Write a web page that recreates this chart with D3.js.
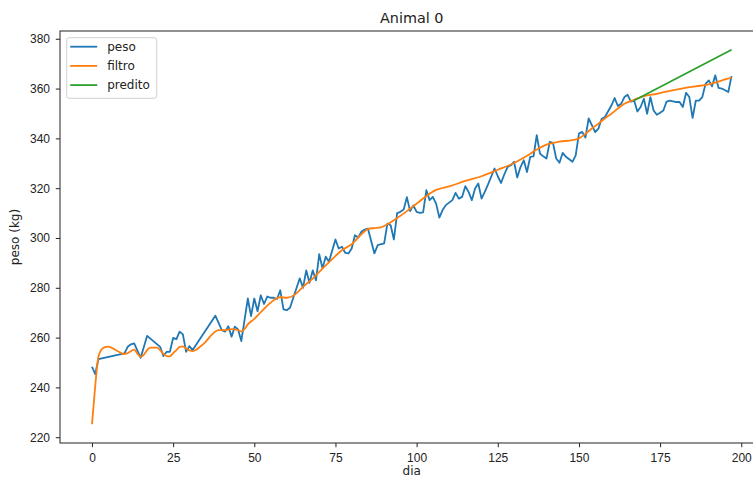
<!DOCTYPE html>
<html lang="pt">
<head>
  <meta charset="UTF-8">
  <title>Animal 0</title>
  <script src="https://d3js.org/d3.v7.min.js"></script>
  <style>
    body { margin: 0; background: #fff; overflow: hidden; }
    svg { display: block; font-family: "DejaVu Sans", sans-serif; }
    .tick text { font-size: 12px; fill: #222; }
    .tick line { stroke: #222; }
    .rotulo { font-size: 12px; fill: #222; }
  </style>
</head>
<body>
  <svg id="chart" width="753" height="478"></svg>

  <script>
    // peso medido (dias com pesagem)
    const pesoDia = [
      0, 1, 2, 10, 11, 12, 13, 15, 17, 19,
      21, 22, 23, 24, 25, 26, 27, 28, 29, 30,
      31, 38, 40, 41, 42, 43, 44, 45, 46, 48,
      49, 50, 51, 52, 53, 54, 55, 56, 57, 58,
      59, 60, 61, 64, 65, 66, 67, 68, 69, 70,
      71, 72, 73, 75, 76, 77, 78, 79, 80, 81,
      82, 83, 84, 85, 87, 88, 90, 91, 92, 93,
      94, 95, 96, 97, 98, 99, 100, 101, 102, 103,
      104, 105, 106, 107, 108, 109, 111, 112, 113, 114,
      115, 116, 117, 118, 119, 120, 121, 122, 124, 125,
      126, 127, 128, 129, 130, 131, 132, 133, 134, 135,
      136, 137, 138, 139, 140, 141, 142, 143, 144, 145,
      146, 148, 149, 150, 151, 152, 153, 155, 156, 157,
      158, 160, 161, 162, 163, 164, 165, 166, 167, 168,
      169, 170, 171, 172, 173, 174, 175, 176, 177, 178,
      180, 181, 182, 183, 184, 185, 186, 187, 188, 189,
      190, 191, 192, 193, 194, 196, 197
    ];
    const pesoKg = [
      248.3, 245.3, 251.4, 253.7, 256.3, 257.3, 257.7, 251.9, 260.7, 258.5,
      256.3, 252.6, 254.3, 254.3, 259.9, 259.4, 262.4, 261.3, 254.3, 256.6,
      255.0, 268.8, 263.0, 262.4, 264.6, 260.4, 264.4, 263.3, 258.6, 275.7,
      268.6, 275.7, 270.6, 277.0, 273.5, 276.5, 276.0, 276.0, 275.5, 279.0,
      271.3, 271.0, 272.0, 283.8, 280.0, 287.0, 282.0, 287.0, 283.0, 293.5,
      287.8, 292.5, 290.5, 299.4, 295.8, 296.5, 294.0, 293.8, 295.8, 301.1,
      300.2, 302.5, 303.4, 303.8, 293.8, 297.1, 297.8, 305.8, 305.1, 299.4,
      310.0, 310.5, 311.4, 316.4, 310.8, 313.1, 310.5, 310.1, 310.3, 319.2,
      315.2, 316.5, 313.8, 308.2, 311.2, 313.2, 315.2, 318.1, 315.8, 316.5,
      320.8, 318.5, 315.2, 319.9, 321.9, 315.8, 318.5, 321.5, 327.9, 324.8,
      322.1, 325.5, 328.5, 329.2, 330.6, 324.3, 328.5, 331.2, 326.5, 332.6,
      332.8, 341.3, 333.9, 332.8, 331.9, 338.6, 338.2, 331.9, 330.2, 334.2,
      332.6, 330.6, 333.2, 341.9, 342.6, 340.3, 348.0, 342.5, 343.9, 347.9,
      348.6, 353.2, 356.2, 353.0, 353.9, 356.6, 357.5, 354.8, 355.2, 350.8,
      352.6, 355.9, 349.9, 356.6, 351.2, 349.5, 350.3, 351.2, 354.8, 355.2,
      354.6, 354.6, 352.6, 358.3, 356.6, 348.2, 355.2, 355.2, 356.6, 361.9,
      363.3, 360.9, 365.3, 360.3, 360.0, 358.6, 365.0
    ];

    // saída do filtro
    const filtroDia = [
      0, 1, 2, 3, 4, 5, 6, 8, 10, 11,
      13, 14, 15, 16, 17, 18, 20, 21, 22, 23,
      24, 25, 26, 27, 28, 29, 30, 31, 32, 33,
      35, 37, 39, 41, 43, 45, 46, 47, 48, 50,
      52, 55, 58, 60, 62, 65, 68, 71, 74, 77,
      80, 83, 85, 87, 89, 91, 94, 97, 100, 103,
      106, 110, 115, 120, 125, 130, 134, 137, 140, 142,
      144, 148, 150, 152, 154, 156, 158, 160, 162, 164,
      167, 170, 174, 178, 182, 186, 190, 193, 195, 197
    ];
    const filtroKg = [
      225.2, 240.5, 252.5, 255.3, 256.2, 256.4, 256.0, 254.5, 253.4, 253.8,
      255.2, 253.5, 252.3, 253.2, 255.0, 256.0, 256.0, 255.0, 253.5, 252.6,
      252.5, 253.8, 255.0, 256.3, 256.5, 255.6, 254.9, 254.6, 255.0, 256.0,
      258.3, 261.3, 263.0, 263.0, 263.4, 263.0, 262.5, 263.5, 265.3, 267.5,
      270.2, 274.0, 276.2, 276.0, 276.8, 280.4, 283.7, 287.7, 291.5, 295.1,
      297.5, 301.5, 303.6, 304.0, 304.3, 305.5, 308.0, 310.8, 313.8, 316.9,
      319.3, 320.7, 322.9, 324.8, 327.4, 330.1, 333.0, 335.5, 337.5, 338.2,
      338.7, 339.3, 340.0, 341.8, 344.0, 345.9, 348.0, 349.9, 352.0, 353.9,
      355.5, 357.0, 357.9, 359.1, 360.1, 360.9, 361.7, 362.8, 363.7, 364.3
    ];

    // predição
    const preditoDia = [167, 197];
    const preditoKg = [355.2, 375.6];

    const xTicks = [0, 25, 50, 75, 100, 125, 150, 175, 200];
    const yTicks = [220, 240, 260, 280, 300, 320, 340, 360, 380];

    const svg = d3.select("#chart");
    const area = { left: 60, right: 763.5, top: 31, bottom: 443 };

    const tudoDia = pesoDia.concat(filtroDia, preditoDia);
    const tudoKg = pesoKg.concat(filtroKg, preditoKg);
    const [x0, x1] = d3.extent(tudoDia);
    const [y0, y1] = d3.extent(tudoKg);
    const mx = (x1 - x0) * 0.05, my = (y1 - y0) * 0.05;

    const x = d3.scaleLinear().domain([x0 - mx, x1 + mx]).range([area.left, area.right]);
    const y = d3.scaleLinear().domain([y0 - my, y1 + my]).range([area.bottom, area.top]);

    const series = [
      { nome: "peso", cor: "#1f77b4", dias: pesoDia, kg: pesoKg, curva: d3.curveLinear },
      { nome: "filtro", cor: "#ff7f0e", dias: filtroDia, kg: filtroKg, curva: d3.curveMonotoneX },
      { nome: "predito", cor: "#2ca02c", dias: preditoDia, kg: preditoKg, curva: d3.curveLinear }
    ];

    // eixos
    svg.append("g")
      .attr("transform", `translate(0,${area.bottom})`)
      .call(d3.axisBottom(x).tickValues(xTicks).tickSize(4.2).tickPadding(6).tickSizeOuter(0))
      .call(g => g.select(".domain").remove());

    svg.append("g")
      .attr("transform", `translate(${area.left},0)`)
      .call(d3.axisLeft(y).tickValues(yTicks).tickSize(4.2).tickPadding(5.8).tickSizeOuter(0))
      .call(g => g.select(".domain").remove());

    // linhas
    series.forEach(s => {
      const linha = d3.line()
        .x((d, i) => x(s.dias[i]))
        .y(d => y(d))
        .curve(s.curva);
      svg.append("path")
        .datum(s.kg)
        .attr("fill", "none")
        .attr("stroke", s.cor)
        .attr("stroke-width", 1.8)
        .attr("stroke-linejoin", "round")
        .attr("d", linha);
    });

    // moldura
    svg.append("rect")
      .attr("x", area.left)
      .attr("y", area.top)
      .attr("width", area.right - area.left)
      .attr("height", area.bottom - area.top)
      .attr("fill", "none")
      .attr("stroke", "#222")
      .attr("stroke-width", 1);

    // legenda
    const leg = svg.append("g").attr("transform", "translate(66.7,37.7)");
    leg.append("rect")
      .attr("width", 90)
      .attr("height", 60.6)
      .attr("rx", 2.5)
      .attr("fill", "#fff")
      .attr("fill-opacity", 0.8)
      .attr("stroke", "#d0d0d0");
    series.forEach((s, i) => {
      const yy = 9 + i * 19.2;
      leg.append("line")
        .attr("x1", 3.5).attr("x2", 30.5)
        .attr("y1", yy).attr("y2", yy)
        .attr("stroke", s.cor)
        .attr("stroke-width", 1.8);
      leg.append("text")
        .attr("class", "rotulo")
        .attr("x", 40.5)
        .attr("y", yy)
        .attr("dy", "0.35em")
        .text(s.nome);
    });

    // títulos
    svg.append("text")
      .attr("x", (area.left + area.right) / 2)
      .attr("y", 23.3)
      .attr("text-anchor", "middle")
      .style("font-size", "14.4px")
      .style("fill", "#222")
      .text("Animal 0");

    svg.append("text")
      .attr("class", "rotulo")
      .attr("x", (area.left + area.right) / 2)
      .attr("y", 475)
      .attr("text-anchor", "middle")
      .text("dia");

    svg.append("text")
      .attr("class", "rotulo")
      .attr("transform", `translate(18.5,${(area.top + area.bottom) / 2}) rotate(-90)`)
      .attr("text-anchor", "middle")
      .text("peso (kg)");
  </script>
</body>
</html>
